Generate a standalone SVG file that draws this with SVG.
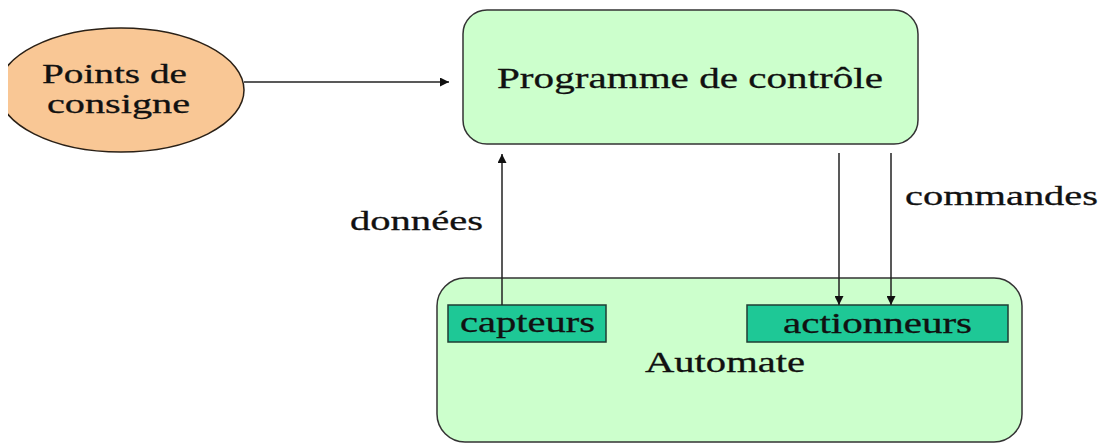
<svg xmlns="http://www.w3.org/2000/svg" width="1105" height="445" viewBox="0 0 1105 445">
  <style>
    .txt { font-family: "Liberation Serif", "Times New Roman", serif; fill: #111; stroke: #111; stroke-width: 0.3; }
    .big { font-size: 30px; }
    .mid { font-size: 28px; }
    .panel { fill: #ccffcc; stroke: #333; stroke-width: 1.5; }
    .unit { fill: #1ec896; stroke: #1f3d33; stroke-width: 1.5; }
    .link { stroke: #222; stroke-width: 1.5; fill: none; marker-end: url(#head); }
  </style>
  <defs>
    <marker id="head" viewBox="0 0 10 10" refX="10" refY="5" markerWidth="10" markerHeight="9" markerUnits="userSpaceOnUse" orient="auto">
      <path d="M0,0 L10,5 L0,10 z" fill="#111"/>
    </marker>
    <clipPath id="leftEdge">
      <rect x="8" y="0" width="1097" height="445"/>
    </clipPath>
  </defs>
  <rect width="1105" height="445" fill="#ffffff"/>

  <g id="consigne">
    <ellipse cx="121" cy="90" rx="123" ry="62" fill="#f9c795" stroke="#2a2016" stroke-width="1.5" clip-path="url(#leftEdge)"/>
    <text class="txt mid" x="42" y="83" textLength="145" lengthAdjust="spacingAndGlyphs">Points de</text>
    <text class="txt mid" x="47" y="113" textLength="143" lengthAdjust="spacingAndGlyphs">consigne</text>
  </g>

  <g id="programme">
    <rect class="panel" x="463" y="10" width="455" height="134" rx="24" ry="24"/>
    <text class="txt big" x="497" y="88" textLength="386" lengthAdjust="spacingAndGlyphs">Programme de contrôle</text>
  </g>

  <g id="automate">
    <rect class="panel" x="437" y="278" width="585" height="164" rx="28" ry="28"/>
    <text class="txt big" x="645" y="372" textLength="160" lengthAdjust="spacingAndGlyphs">Automate</text>
  </g>

  <g id="capteurs">
    <rect class="unit" x="448" y="305" width="158" height="37"/>
    <text class="txt big" x="460" y="332" textLength="135" lengthAdjust="spacingAndGlyphs">capteurs</text>
  </g>

  <g id="actionneurs">
    <rect class="unit" x="747" y="305" width="261" height="37"/>
    <text class="txt big" x="783" y="333" textLength="189" lengthAdjust="spacingAndGlyphs">actionneurs</text>
  </g>

  <g id="connectors">
    <line class="link" x1="244" y1="82" x2="449" y2="82"/>
    <line class="link" x1="502" y1="305" x2="502" y2="154"/>
    <line class="link" x1="839" y1="153" x2="839" y2="305"/>
    <line class="link" x1="891" y1="153" x2="891" y2="305"/>
  </g>

  <g id="labels">
    <text class="txt mid" x="350" y="230" textLength="133" lengthAdjust="spacingAndGlyphs">données</text>
    <text class="txt mid" x="905" y="205" textLength="193" lengthAdjust="spacingAndGlyphs">commandes</text>
  </g>
</svg>
